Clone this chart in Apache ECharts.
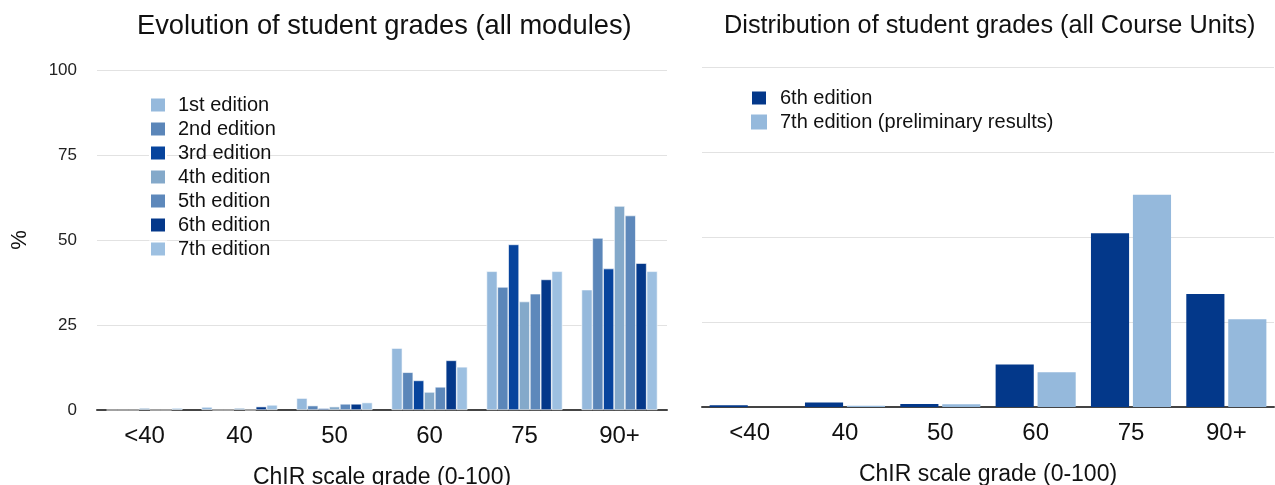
<!DOCTYPE html>
<html>
<head>
<meta charset="utf-8">
<script src="https://cdn.jsdelivr.net/npm/echarts@6/dist/echarts.min.js"></script>
<style>html,body{margin:0;padding:0;background:#fff;}#c{width:1275px;height:485px;}</style>
</head>
<body>
<div id="c"></div>
<script>
const categories = ['<40', '40', '50', '60', '75', '90+'];
const yTicks = [0, 25, 50, 75, 100];

// Left chart: all modules, per edition
const edition1 = [0, 0.9, 3.5, 18.2, 40.8, 35.4];
const edition2 = [0, 0, 1.3, 11.1, 36.2, 50.6];
const edition3 = [0, 0, 0.5, 8.7, 48.7, 41.6];
const edition4 = [0.6, 0.6, 1.0, 5.3, 31.9, 60.0];
const edition5 = [0, 0, 1.8, 6.8, 34.2, 57.2];
const edition6 = [0, 1.0, 1.8, 14.6, 38.4, 43.2];
const edition7 = [0.6, 1.5, 2.2, 12.7, 40.8, 40.8];
const leftNames = ['1st edition', '2nd edition', '3rd edition', '4th edition', '5th edition', '6th edition', '7th edition'];

// Right chart: all Course Units
const unit6th = [0.5, 1.3, 0.9, 12.5, 51.1, 33.2];
const unit7th = [0, 0.4, 0.8, 10.2, 62.4, 25.8];
const rightNames = ['6th edition', '7th edition (preliminary results)'];

const leftColors = ['#95b9dc', '#5b86b9', '#07449d', '#84a9ca', '#5d88bb', '#04388a', '#9dc0e1'];
const rightColors = ['#03388a', '#95b9dc'];
const FONT = 'Liberation Sans, Arial, sans-serif';

const chart = echarts.init(document.getElementById('c'));
const leftData = [edition1, edition2, edition3, edition4, edition5, edition6, edition7];

const series = [];
leftData.forEach((d, i) => {
  series.push({
    name: leftNames[i], type: 'bar', xAxisIndex: 0, yAxisIndex: 0, data: d,
    barGap: '0%', barCategoryGap: '20%',
    itemStyle: { color: leftColors[i], borderColor: '#ffffff', borderWidth: 0.6 },
    emphasis: { disabled: true }
  });
});
[unit6th, unit7th].forEach((d, i) => {
  series.push({
    name: rightNames[i], type: 'bar', xAxisIndex: 1, yAxisIndex: 1, data: d,
    barGap: '10%', barCategoryGap: '16%',
    itemStyle: { color: rightColors[i] },
    emphasis: { disabled: true }
  });
});

function xAxis(gridIndex) {
  return {
    type: 'category', gridIndex, data: categories,
    axisLine: { lineStyle: { color: '#444', width: 2 } },
    axisTick: { show: false },
    axisLabel: { color: '#111', fontSize: 24, fontFamily: FONT, margin: 14 },
    name: 'ChIR scale grade (0-100)', nameLocation: 'middle', nameGap: 56,
    nameTextStyle: { color: '#111', fontSize: 23, fontFamily: FONT }
  };
}
function yAxis(gridIndex, showLabels) {
  return {
    type: 'value', gridIndex, min: yTicks[0], max: yTicks[yTicks.length - 1], interval: 25,
    axisLine: { show: false }, axisTick: { show: false },
    axisLabel: { show: showLabels, color: '#222', fontSize: 17, fontFamily: FONT, margin: 20 },
    splitLine: { lineStyle: { color: '#e2e2e2', width: 1 } },
    name: showLabels ? '%' : '', nameLocation: 'middle', nameGap: 66, nameRotate: 90,
    nameTextStyle: { color: '#111', fontSize: 22, fontFamily: FONT }
  };
}

chart.setOption({
  animation: false,
  title: [
    { text: 'Evolution of student grades (all modules)', left: 137, top: 13, padding: 0,
      textStyle: { fontSize: 27.3, fontWeight: 'normal', color: '#111', fontFamily: FONT } },
    { text: 'Distribution of student grades (all Course Units)', left: 724, top: 14, padding: 0,
      textStyle: { fontSize: 25.3, fontWeight: 'normal', color: '#111', fontFamily: FONT } }
  ],
  legend: [
    { data: leftNames, orient: 'vertical', left: 149, top: 95, padding: 0,
      itemWidth: 16, itemHeight: 15, itemGap: 4, icon: 'rect',
      textStyle: { fontSize: 20, color: '#111', fontFamily: FONT, lineHeight: 20, padding: [0, 0, 0, 7] } },
    { data: rightNames, orient: 'vertical', left: 750, top: 88, padding: 0,
      itemWidth: 16, itemHeight: 15, itemGap: 4, icon: 'rect',
      textStyle: { fontSize: 20, color: '#111', fontFamily: FONT, lineHeight: 20, padding: [0, 0, 0, 8] } }
  ],
  grid: [
    { left: 97, top: 70, width: 570, height: 340, outerBoundsMode: 'none', containLabel: false },
    { left: 702, top: 67, width: 572, height: 340, outerBoundsMode: 'none', containLabel: false }
  ],
  xAxis: [xAxis(0), xAxis(1)],
  yAxis: [yAxis(0, true), yAxis(1, false)],
  series
});
</script>
</body>
</html>
